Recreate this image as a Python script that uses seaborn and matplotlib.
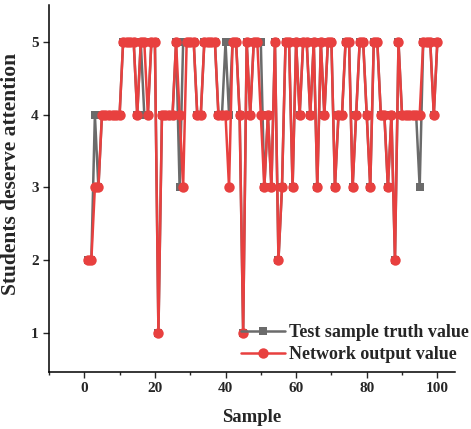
import numpy as np
import pandas as pd
import matplotlib
matplotlib.use("Agg")
import matplotlib.pyplot as plt
import seaborn as sns
from matplotlib.ticker import MultipleLocator

# data
sample = list(range(1, 101))
truth_value = [2, 2, 4, 3, 4, 4, 4, 4, 4, 4,
               5, 5, 5, 5, 4, 5, 4, 4, 5, 5,
               1, 4, 4, 4, 4, 5, 3, 5, 5, 5,
               5, 4, 4, 5, 5, 5, 5, 4, 4, 5,
               4, 5, 5, 4, 1, 5, 4, 5, 5, 5,
               3, 4, 3, 5, 2, 3, 5, 5, 3, 5,
               4, 5, 5, 4, 5, 3, 5, 4, 5, 5,
               3, 4, 4, 5, 5, 3, 4, 5, 5, 4,
               3, 5, 5, 4, 4, 3, 4, 2, 5, 4,
               4, 4, 4, 4, 3, 5, 5, 5, 4, 5]
network_value = [2, 2, 3, 3, 4, 4, 4, 4, 4, 4,
                 5, 5, 5, 5, 4, 5, 5, 4, 5, 5,
                 1, 4, 4, 4, 4, 5, 4, 3, 5, 5,
                 5, 4, 4, 5, 5, 5, 5, 4, 4, 4,
                 3, 5, 5, 4, 1, 5, 4, 5, 5, 4,
                 3, 4, 3, 5, 2, 3, 5, 5, 3, 5,
                 4, 5, 5, 4, 5, 3, 5, 4, 5, 5,
                 3, 4, 4, 5, 5, 3, 4, 5, 5, 4,
                 3, 5, 5, 4, 4, 3, 4, 2, 5, 4,
                 4, 4, 4, 4, 4, 5, 5, 5, 4, 5]

sns.set_style("ticks")
plt.rcParams["font.family"] = ["Liberation Serif", "DejaVu Serif"]
plt.rcParams["font.weight"] = "bold"

fig = plt.figure(figsize=(4.71, 4.29), dpi=100)
ax = fig.add_axes([0.104, 0.133, 0.862, 0.855])

sns.lineplot(x=sample, y=truth_value, ax=ax, color="#6b6b6b", marker="s",
             markersize=5.5, markeredgewidth=0, linewidth=1.8,
             label="Test sample truth value")
sns.lineplot(x=sample, y=network_value, ax=ax, color="#e8403f", marker="o",
             markersize=7.5, markeredgewidth=0, linewidth=1.8,
             label="Network output value")

ax.set_xlim(-10, 105)
ax.set_ylim(0.46, 5.51)
ax.xaxis.set_major_locator(MultipleLocator(20))
ax.xaxis.set_minor_locator(MultipleLocator(10))
ax.yaxis.set_major_locator(MultipleLocator(1))
ax.tick_params(axis="both", which="major", labelsize=11, length=4, width=1, direction="out")
ax.tick_params(axis="both", which="minor", length=2.5, width=1, direction="out")
for lab in ax.get_xticklabels() + ax.get_yticklabels():
    lab.set_fontweight("bold")

ax.set_xlabel("Sample", fontsize=13.5, fontweight="bold", labelpad=10)
ax.set_ylabel("Students deserve attention", fontsize=15.5, fontweight="bold")
ax.yaxis.set_label_coords(-0.07, 0.54)

sns.despine(ax=ax)
for s in ["left", "bottom"]:
    ax.spines[s].set_linewidth(1.1)
    ax.spines[s].set_color("black")

leg = ax.legend(loc="lower right", bbox_to_anchor=(1.075, -0.02), frameon=False,
                handlelength=2.4, handletextpad=0.25, labelspacing=0.28,
                prop={"weight": "bold", "size": 13})

plt.savefig("out.png", dpi=100)
